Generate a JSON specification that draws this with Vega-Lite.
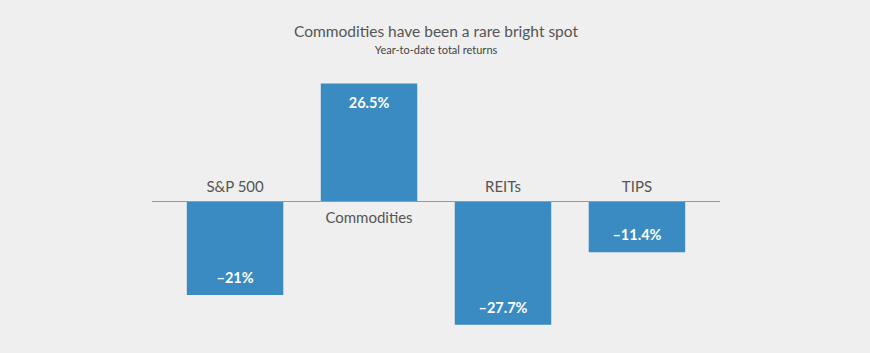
{
  "$schema": "https://vega.github.io/schema/vega-lite/v6.json",
  "autosize": "none",
  "padding": {"left": 152, "right": 150, "top": 68, "bottom": 18},
  "width": 568,
  "height": 267,
  "background": "#efefef",
  "title": {
    "text": "Commodities have been a rare bright spot",
    "subtitle": "Year-to-date total returns",
    "anchor": "middle",
    "font": "Lato",
    "fontSize": 15.5,
    "fontWeight": "normal",
    "color": "#555555",
    "subtitleFont": "Lato",
    "subtitleFontSize": 11,
    "subtitleColor": "#444444",
    "subtitlePadding": 5,
    "offset": 12
  },
  "data": {
    "values": [
      {"asset": "S&P 500", "value": -21, "label": "–21%"},
      {"asset": "Commodities", "value": 26.5, "label": "26.5%"},
      {"asset": "REITs", "value": -27.7, "label": "–27.7%"},
      {"asset": "TIPS", "value": -11.4, "label": "–11.4%"}
    ]
  },
  "encoding": {
    "x": {
      "field": "asset",
      "type": "nominal",
      "sort": null,
      "axis": null,
      "scale": {"paddingInner": 0.28, "paddingOuter": 0.26}
    }
  },
  "layer": [
    {
      "mark": {"type": "bar", "color": "#3a8bc2"},
      "encoding": {
        "y": {"field": "value", "type": "quantitative", "axis": null, "scale": {"domain": [-30, 30], "nice": false}}
      }
    },
    {
      "mark": {"type": "rule", "color": "#9a9a9a", "strokeWidth": 1.2},
      "encoding": {"y": {"datum": 0}, "x": {"value": 0}, "x2": {"value": 568}}
    },
    {
      "transform": [{"filter": "datum.value < 0"}],
      "mark": {"type": "text", "font": "Lato", "fontSize": 15, "color": "#555555", "dy": -15},
      "encoding": {"y": {"datum": 0}, "text": {"field": "asset"}}
    },
    {
      "transform": [{"filter": "datum.value >= 0"}],
      "mark": {"type": "text", "font": "Lato", "fontSize": 15, "color": "#555555", "dy": 16},
      "encoding": {"y": {"datum": 0}, "text": {"field": "asset"}}
    },
    {
      "transform": [{"filter": "datum.value < 0"}],
      "mark": {"type": "text", "font": "Lato", "fontSize": 14.5, "fontWeight": "bold", "color": "#ffffff", "dy": -16},
      "encoding": {"y": {"field": "value", "type": "quantitative"}, "text": {"field": "label"}}
    },
    {
      "transform": [{"filter": "datum.value >= 0"}],
      "mark": {"type": "text", "font": "Lato", "fontSize": 14.5, "fontWeight": "bold", "color": "#ffffff", "dy": 20},
      "encoding": {"y": {"field": "value", "type": "quantitative"}, "text": {"field": "label"}}
    }
  ],
  "config": {"view": {"stroke": null}}
}
